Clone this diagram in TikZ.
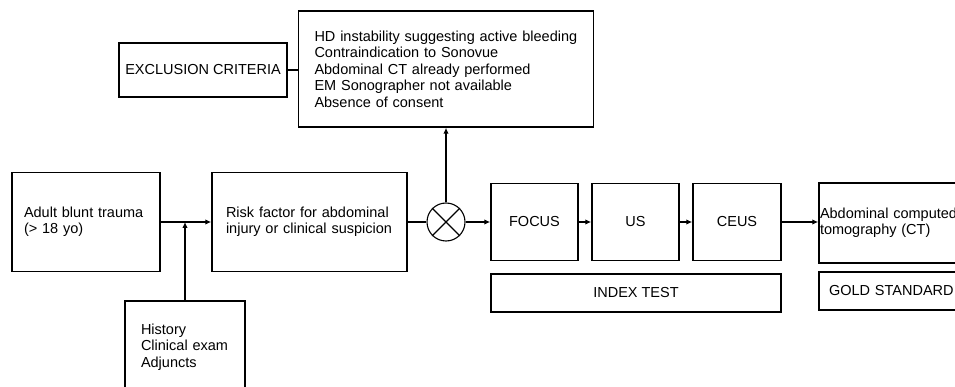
\documentclass[tikz,border=0pt]{standalone}
\usepackage{fontspec}
\setmainfont{Liberation Sans}
\usetikzlibrary{arrows.meta}
\begin{document}
\begin{tikzpicture}[x=1pt, y=-1pt, >={Latex[length=6pt, width=5.5pt]},
	box/.style={draw, line width=1.5pt, font=\fontsize{14.5}{16.5}\selectfont, inner sep=0pt},
	lbox/.style={box, align=left},
	link/.style={line width=1.1pt}]
		
		\useasboundingbox (0,0) rectangle (955,387);
		\clip (0,0) rectangle (955,387);
		
		\node[box, minimum width=168, minimum height=54] (excl) at (203,70) {EXCLUSION CRITERIA};
		\node[lbox, text width=263pt, inner xsep=16pt, minimum height=116] (crit) at (446,69) {HD instability suggesting active bleeding\\Contraindication to Sonovue\\Abdominal CT already performed\\EM Sonographer not available\\Absence of consent};
		
		\node[lbox, text width=124pt, inner xsep=12pt, minimum height=99] (adult) at (86,222) {Adult blunt trauma\\(> 18 yo)};
		\node[lbox, text width=167pt, inner xsep=14pt, minimum height=99] (risk) at (309.5,222) {Risk factor for abdominal\\injury or clinical suspicion};
		\node[lbox, text width=88pt, inner xsep=16pt, minimum height=92] (hist) at (185,347) {History\\Clinical exam\\Adjuncts};
		\coordinate (join) at (185,222);
		
		\node[draw, circle, link, minimum size=38, inner sep=0pt] (mix) at (446,222) {};
		\draw[link] (mix.north west) -- (mix.south east);
		\draw[link] (mix.north east) -- (mix.south west);
		
		\node[box, minimum width=87, minimum height=77] (focus) at (534.5,222) {FOCUS};
		\node[box, minimum width=87, minimum height=77] (us) at (635.5,222) {US};
		\node[box, minimum width=88, minimum height=77] (ceus) at (737,222) {CEUS};
		\node[box, minimum width=290, minimum height=38] (index) at (636,293) {INDEX TEST};
		
		\node[lbox, text width=148pt, inner xsep=1pt, minimum height=80] (ct) at (894,223) {Abdominal computed\\tomography (CT)};
		\node[lbox, text width=130pt, inner xsep=10pt, minimum height=38] (gold) at (894,291) {GOLD STANDARD};
		
		\draw[link] (excl.east) -- (excl.east -| crit.west);
		\draw[->, link] (adult) -- (risk);
		\draw[->, link] (hist) -- (join);
		\draw[link] (risk) -- (mix);
		\draw[->, link] (mix) -- (crit);
		\draw[->, link] (mix) -- (focus);
		\draw[->, link] (focus) -- (us);
		\draw[->, link] (us) -- (ceus);
		\draw[->, link] (ceus) -- (ct.west |- ceus.east);
	\end{tikzpicture}
\end{document}
